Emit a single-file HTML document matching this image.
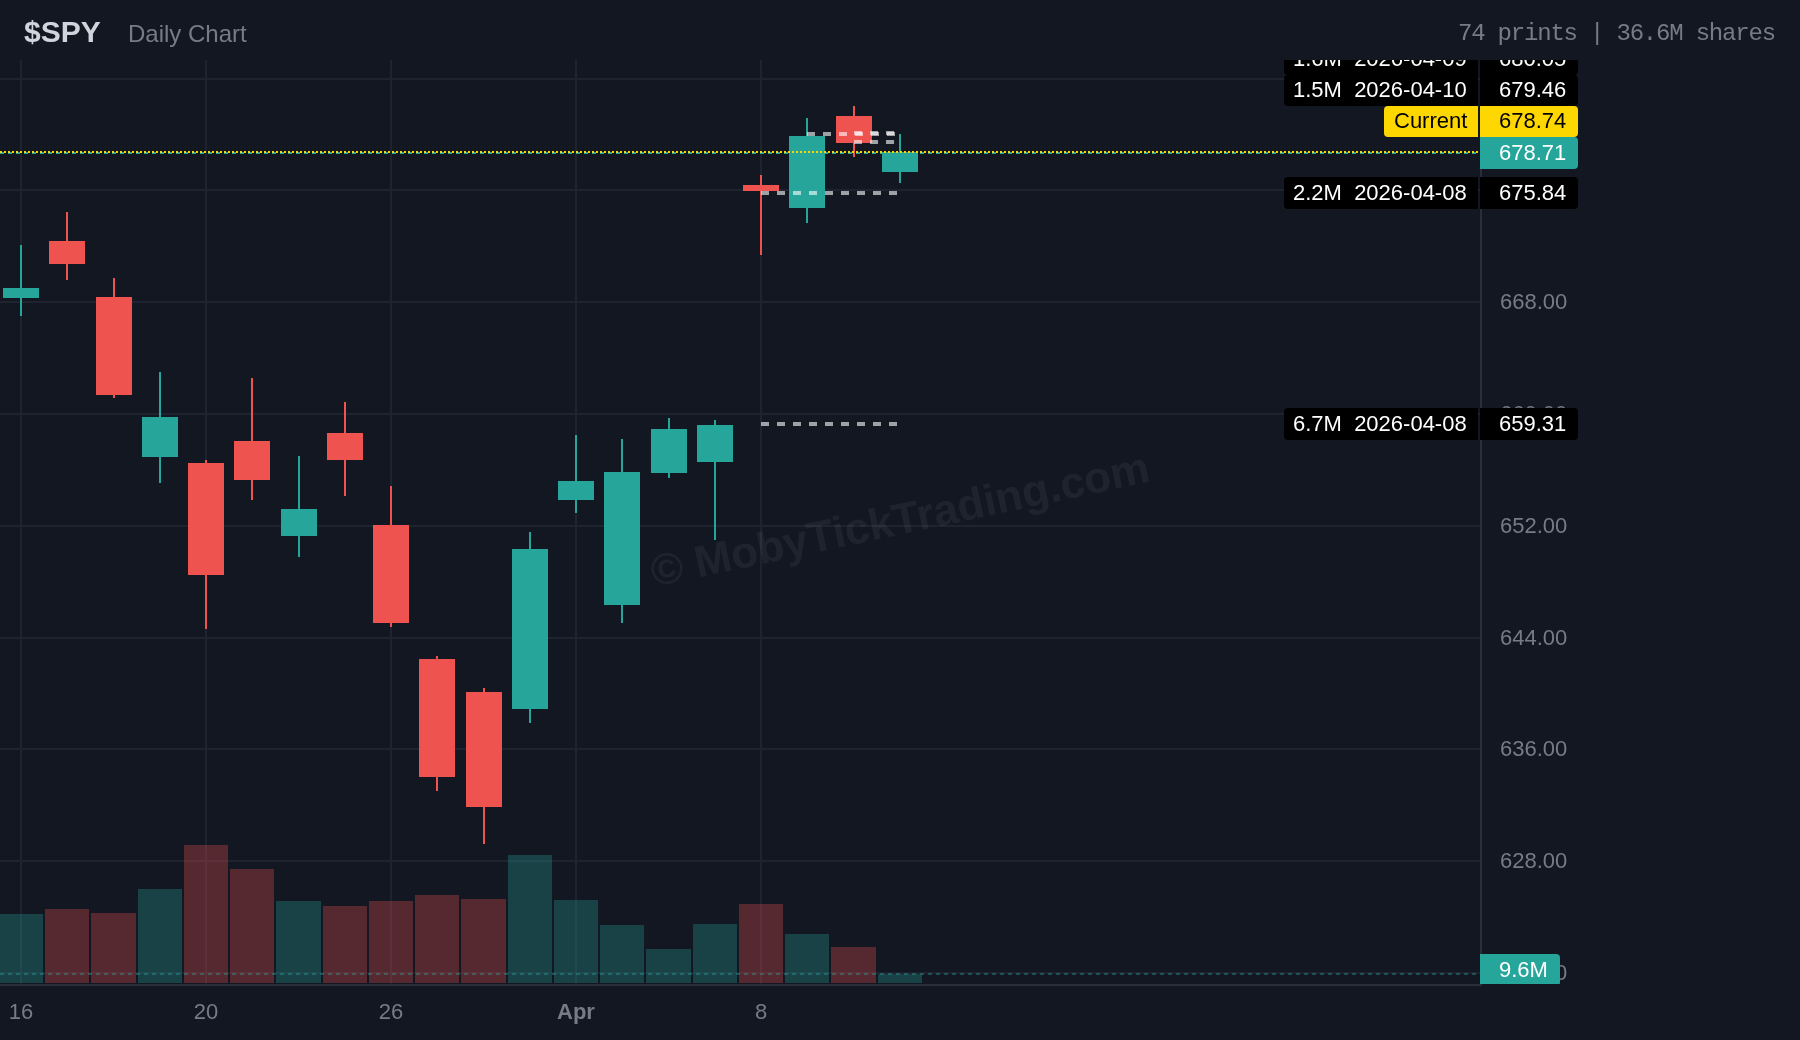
<!DOCTYPE html>
<html><head><meta charset="utf-8"><title>$SPY Daily Chart</title>
<style>
*{margin:0;padding:0;box-sizing:border-box}
html,body{width:1800px;height:1040px;overflow:hidden;background:#131722}
body{position:relative;font-family:"Liberation Sans",sans-serif}
.g{will-change:transform}
#hdr .sym{position:absolute;left:24px;top:14px;font-size:30px;font-weight:bold;color:#d1d4dc;line-height:36px;white-space:nowrap}
#hdr .sub{position:absolute;left:128.3px;top:18px;font-size:24px;color:#787b86;line-height:32px;white-space:nowrap}
#hdr .st{position:absolute;right:25.5px;top:20px;font-family:"Liberation Mono",monospace;font-size:24px;letter-spacing:-1.2px;color:#787b86;line-height:28px;white-space:pre}
svg{position:absolute;left:0;top:0}
#pane{position:absolute;left:0;top:60px;width:1800px;height:924px;overflow:hidden}
#pane .in{position:absolute;left:0;top:-60px;width:1800px;height:1040px}
.pl{position:absolute;left:1500px;height:32px;line-height:32px;font-size:22px;color:#787b86;white-space:nowrap}
.ab{position:absolute;left:1480px;width:98px;border-radius:0 4px 4px 0}
.pb{position:absolute;left:1284px;width:194px;border-radius:4px 0 0 4px}
.lt{position:absolute;font-size:22px;line-height:22px;white-space:nowrap}
.pb.pc{left:1384px;width:94px}
.tl{position:absolute;top:996px;width:80px;text-align:center;font-size:22px;line-height:32px;color:#787b86;white-space:nowrap}
</style></head>
<body>
<div id="hdr"><div class="sym g">$SPY</div><div class="sub g">Daily Chart</div><div class="st g">74 prints | 36.6M shares</div></div>
<div id="pane"><div class="in">
<svg class="g" width="1800" height="1040" viewBox="0 0 1800 1040" shape-rendering="crispEdges">
<rect x="0" y="78" width="1480" height="2" fill="#1f2330"/>
<rect x="0" y="189" width="1480" height="2" fill="#1f2330"/>
<rect x="0" y="301" width="1480" height="2" fill="#1f2330"/>
<rect x="0" y="413" width="1480" height="2" fill="#1f2330"/>
<rect x="0" y="525" width="1480" height="2" fill="#1f2330"/>
<rect x="0" y="637" width="1480" height="2" fill="#1f2330"/>
<rect x="0" y="748" width="1480" height="2" fill="#1f2330"/>
<rect x="0" y="860" width="1480" height="2" fill="#1f2330"/>
<rect x="0" y="972" width="1480" height="2" fill="#1f2330"/>
<rect x="20" y="60" width="2" height="924" fill="#1f2330"/>
<rect x="205" y="60" width="2" height="924" fill="#1f2330"/>
<rect x="390" y="60" width="2" height="924" fill="#1f2330"/>
<rect x="575" y="60" width="2" height="924" fill="#1f2330"/>
<rect x="760" y="60" width="2" height="924" fill="#1f2330"/>
<text x="0" y="0" transform="translate(903 534) rotate(-12.0)" text-anchor="middle" font-family="Liberation Sans" font-weight="bold" font-size="44" fill="rgba(255,255,255,0.055)">© MobyTickTrading.com</text>
<rect x="0" y="914" width="43" height="69" fill="rgba(38,166,154,0.3)"/>
<rect x="45" y="909" width="44" height="74" fill="rgba(239,83,80,0.3)"/>
<rect x="91" y="913" width="45" height="70" fill="rgba(239,83,80,0.3)"/>
<rect x="138" y="889" width="44" height="94" fill="rgba(38,166,154,0.3)"/>
<rect x="184" y="845" width="44" height="138" fill="rgba(239,83,80,0.3)"/>
<rect x="230" y="869" width="44" height="114" fill="rgba(239,83,80,0.3)"/>
<rect x="276" y="901" width="45" height="82" fill="rgba(38,166,154,0.3)"/>
<rect x="323" y="906" width="44" height="77" fill="rgba(239,83,80,0.3)"/>
<rect x="369" y="901" width="44" height="82" fill="rgba(239,83,80,0.3)"/>
<rect x="415" y="895" width="44" height="88" fill="rgba(239,83,80,0.3)"/>
<rect x="461" y="899" width="45" height="84" fill="rgba(239,83,80,0.3)"/>
<rect x="508" y="855" width="44" height="128" fill="rgba(38,166,154,0.3)"/>
<rect x="554" y="900" width="44" height="83" fill="rgba(38,166,154,0.3)"/>
<rect x="600" y="925" width="44" height="58" fill="rgba(38,166,154,0.3)"/>
<rect x="646" y="949" width="45" height="34" fill="rgba(38,166,154,0.3)"/>
<rect x="693" y="924" width="44" height="59" fill="rgba(38,166,154,0.3)"/>
<rect x="739" y="904" width="44" height="79" fill="rgba(239,83,80,0.3)"/>
<rect x="785" y="934" width="44" height="49" fill="rgba(38,166,154,0.3)"/>
<rect x="831" y="947" width="45" height="36" fill="rgba(239,83,80,0.3)"/>
<rect x="878" y="974" width="44" height="9" fill="rgba(38,166,154,0.3)"/>
<line x1="0" y1="974" x2="1480" y2="974" stroke="rgba(38,166,154,0.4)" stroke-width="2" stroke-dasharray="4 4"/>
<rect x="20" y="245" width="2" height="71" fill="#26a69a"/>
<rect x="3" y="288" width="36" height="10" fill="#26a69a"/>
<rect x="66" y="212" width="2" height="68" fill="#ef5350"/>
<rect x="49" y="241" width="36" height="23" fill="#ef5350"/>
<rect x="113" y="278" width="2" height="120" fill="#ef5350"/>
<rect x="96" y="297" width="36" height="98" fill="#ef5350"/>
<rect x="159" y="372" width="2" height="111" fill="#26a69a"/>
<rect x="142" y="417" width="36" height="40" fill="#26a69a"/>
<rect x="205" y="460" width="2" height="169" fill="#ef5350"/>
<rect x="188" y="463" width="36" height="112" fill="#ef5350"/>
<rect x="251" y="378" width="2" height="122" fill="#ef5350"/>
<rect x="234" y="441" width="36" height="39" fill="#ef5350"/>
<rect x="298" y="456" width="2" height="101" fill="#26a69a"/>
<rect x="281" y="509" width="36" height="27" fill="#26a69a"/>
<rect x="344" y="402" width="2" height="94" fill="#ef5350"/>
<rect x="327" y="433" width="36" height="27" fill="#ef5350"/>
<rect x="390" y="486" width="2" height="141" fill="#ef5350"/>
<rect x="373" y="525" width="36" height="98" fill="#ef5350"/>
<rect x="436" y="656" width="2" height="135" fill="#ef5350"/>
<rect x="419" y="659" width="36" height="118" fill="#ef5350"/>
<rect x="483" y="688" width="2" height="156" fill="#ef5350"/>
<rect x="466" y="692" width="36" height="115" fill="#ef5350"/>
<rect x="529" y="532" width="2" height="191" fill="#26a69a"/>
<rect x="512" y="549" width="36" height="160" fill="#26a69a"/>
<rect x="575" y="435" width="2" height="78" fill="#26a69a"/>
<rect x="558" y="481" width="36" height="19" fill="#26a69a"/>
<rect x="621" y="439" width="2" height="184" fill="#26a69a"/>
<rect x="604" y="472" width="36" height="133" fill="#26a69a"/>
<rect x="668" y="418" width="2" height="60" fill="#26a69a"/>
<rect x="651" y="429" width="36" height="44" fill="#26a69a"/>
<rect x="714" y="420" width="2" height="120" fill="#26a69a"/>
<rect x="697" y="425" width="36" height="37" fill="#26a69a"/>
<rect x="760" y="175" width="2" height="80" fill="#ef5350"/>
<rect x="743" y="185" width="36" height="6" fill="#ef5350"/>
<rect x="806" y="118" width="2" height="105" fill="#26a69a"/>
<rect x="789" y="136" width="36" height="72" fill="#26a69a"/>
<rect x="853" y="106" width="2" height="51" fill="#ef5350"/>
<rect x="836" y="116" width="36" height="27" fill="#ef5350"/>
<rect x="899" y="134" width="2" height="49" fill="#26a69a"/>
<rect x="882" y="152" width="36" height="20" fill="#26a69a"/>
<line x1="854" y1="133" x2="900" y2="133" stroke="rgba(255,255,255,0.6)" stroke-width="4" stroke-dasharray="8 8"/>
<line x1="807" y1="134" x2="899" y2="134" stroke="rgba(255,255,255,0.6)" stroke-width="4" stroke-dasharray="8 8"/>
<line x1="854" y1="142" x2="900" y2="142" stroke="rgba(255,255,255,0.6)" stroke-width="4" stroke-dasharray="8 8"/>
<line x1="761" y1="193" x2="899" y2="193" stroke="rgba(255,255,255,0.6)" stroke-width="4" stroke-dasharray="8 8"/>
<line x1="761" y1="424" x2="899" y2="424" stroke="rgba(255,255,255,0.6)" stroke-width="4" stroke-dasharray="8 8"/>
<line x1="0" y1="153" x2="1480" y2="153" stroke="#26a69a" stroke-width="2" stroke-dasharray="4 4"/>
<line x1="0" y1="152" x2="1480" y2="152" stroke="#ffd700" stroke-width="2" stroke-dasharray="2 2"/>
<rect x="1480" y="60" width="2" height="926" fill="#2a2e39"/>
</svg>
<div class="pl g" style="top:63px">684.00</div><div class="pl g" style="top:175px">676.00</div><div class="pl g" style="top:286px">668.00</div><div class="pl g" style="top:398px">660.00</div><div class="pl g" style="top:510px">652.00</div><div class="pl g" style="top:622px">644.00</div><div class="pl g" style="top:733px">636.00</div><div class="pl g" style="top:845px">628.00</div><div class="pl g" style="top:957px">620.00</div>
<div class="ab" style="top:43px;height:32px;background:#000"></div><div class="lt g" style="left:1499px;top:48.37px;color:#fff">680.05</div><div class="pb" style="top:43px;height:32px;background:#000"></div><div class="lt g" style="left:1293px;top:48.37px;color:#fff">1.6M&nbsp; 2026-04-09</div><div class="ab" style="top:75px;height:31px;background:#000"></div><div class="lt g" style="left:1499px;top:79.37px;color:#fff">679.46</div><div class="pb" style="top:75px;height:31px;background:#000"></div><div class="lt g" style="left:1293px;top:79.37px;color:#fff">1.5M&nbsp; 2026-04-10</div><div class="ab" style="top:106px;height:31px;background:#ffd700"></div><div class="lt g" style="left:1499px;top:110.37px;color:#000">678.74</div><div class="pb pc" style="top:106px;height:31px;background:#ffd700"></div><div class="lt g" style="left:1393.5px;top:110.37px;color:#000">Current</div><div class="ab" style="top:137px;height:32px;background:#26a69a"></div><div class="lt g" style="left:1499px;top:142.37px;color:#fff">678.71</div><div class="ab" style="top:177px;height:32px;background:#000"></div><div class="lt g" style="left:1499px;top:182.37px;color:#fff">675.84</div><div class="pb" style="top:177px;height:32px;background:#000"></div><div class="lt g" style="left:1293px;top:182.37px;color:#fff">2.2M&nbsp; 2026-04-08</div><div class="ab" style="top:408px;height:32px;background:#000"></div><div class="lt g" style="left:1499px;top:413.37px;color:#fff">659.31</div><div class="pb" style="top:408px;height:32px;background:#000"></div><div class="lt g" style="left:1293px;top:413.37px;color:#fff">6.7M&nbsp; 2026-04-08</div><div class="ab" style="top:954px;height:32px;width:80px;background:#26a69a"></div><div class="lt g" style="left:1499px;top:959.37px;color:#fff">9.6M</div>
</div></div>
<div style="position:absolute;left:0;top:984px;width:1482px;height:2px;background:#2a2e39"></div>
<div class="tl g" style="left:-19px;">16</div><div class="tl g" style="left:166px;">20</div><div class="tl g" style="left:351px;">26</div><div class="tl g" style="left:536px;font-weight:bold;">Apr</div><div class="tl g" style="left:721px;">8</div>
</body></html>
